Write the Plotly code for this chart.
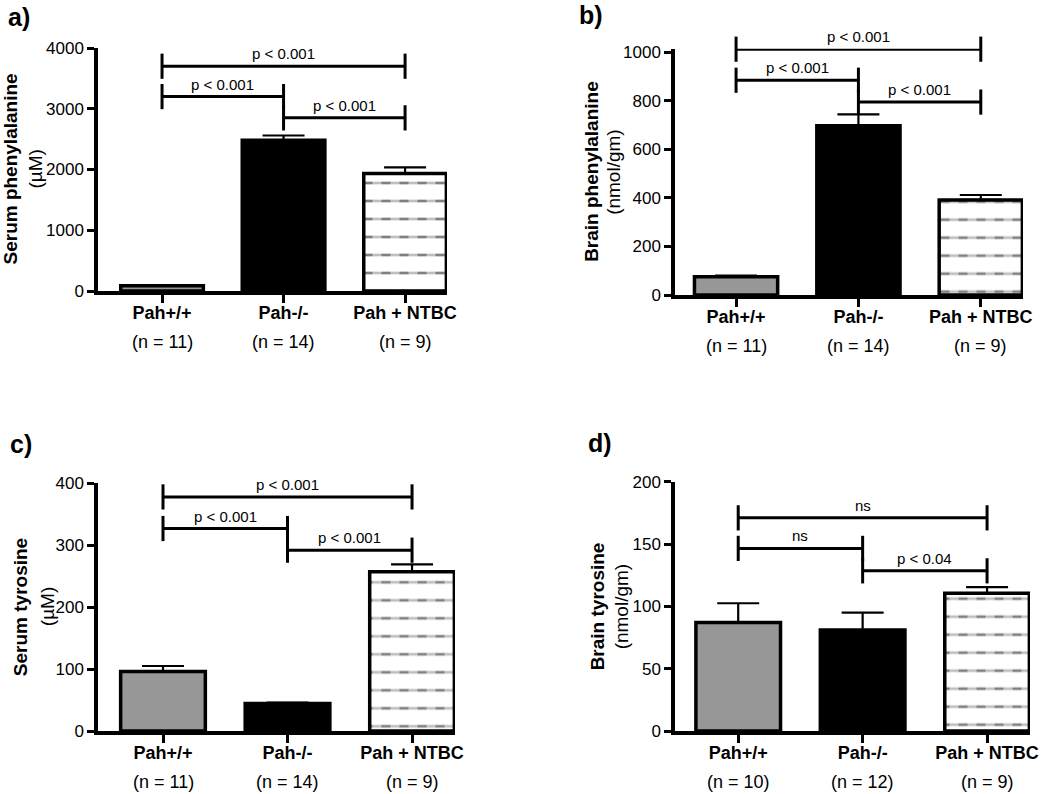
import plotly.graph_objects as go

# ---------------- data ----------------
categories = ["Pah+/+", "Pah-/-", "Pah + NTBC"]

a_means = [85, 2480, 1935]
a_err = [10, 80, 100]
a_n = [11, 14, 9]
a_brackets = [3700, 3200, 2850]
a_blabels = ["p < 0.001", "p < 0.001", "p < 0.001"]

b_means = [75, 697, 392]
b_err = [5, 47, 20]
b_n = [11, 14, 9]
b_brackets = [1013, 885, 795]
b_blabels = ["p < 0.001", "p < 0.001", "p < 0.001"]

c_means = [96, 44.5, 257]
c_err = [9, 1.5, 12]
c_n = [11, 14, 9]
c_brackets = [378, 327, 292]
c_blabels = ["p < 0.001", "p < 0.001", "p < 0.001"]

d_means = [87, 81, 110.5]
d_err = [15.5, 14, 5]
d_n = [10, 12, 9]
d_brackets = [171, 146.5, 128.5]
d_blabels = ["ns", "ns", "p < 0.04"]

bracket_pairs = [(0, 2), (0, 1), (1, 2)]

# ---------------- styling / layout ----------------
W, H = 1050, 794
FONT = "Arial, Liberation Sans, Helvetica, sans-serif"
GRAY = "#979797"

panels = [
    dict(letter="a)", means=a_means, err=a_err, n=a_n, br=a_brackets, bl=a_blabels,
         title="Serum phenylalanine", unit="(µM)", yrange=[0, 4000], dtick=1000,
         xpx=[98, 447], ypx=[48, 291], xr=[-0.527, 2.345],
         letter_pos=(19, 17), tpos=(10, 35)),
    dict(letter="b)", means=b_means, err=b_err, n=b_n, br=b_brackets, bl=b_blabels,
         title="Brain phenylalanine", unit="(nmol/gm)", yrange=[0, 1015], dtick=200,
         xpx=[675, 1023], ypx=[48.7, 295], xr=[-0.499, 2.345],
         letter_pos=(591, 15), tpos=(592, 614)),
    dict(letter="c)", means=c_means, err=c_err, n=c_n, br=c_brackets, bl=c_blabels,
         title="Serum tyrosine", unit="(µM)", yrange=[0, 400], dtick=100,
         xpx=[98, 455], ypx=[483.3, 731], xr=[-0.522, 2.345],
         letter_pos=(21, 444), tpos=(20, 47)),
    dict(letter="d)", means=d_means, err=d_err, n=d_n, br=d_brackets, bl=d_blabels,
         title="Brain tyrosine", unit="(nmol/gm)", yrange=[0, 200], dtick=50,
         xpx=[675, 1030], ypx=[481.7, 731], xr=[-0.508, 2.345],
         letter_pos=(600, 443), tpos=(597, 621)),
]

fig = go.Figure()
layout = dict(
    width=W, height=H,
    margin=dict(l=0, r=0, t=0, b=0),
    paper_bgcolor="white", plot_bgcolor="white",
    showlegend=False, barmode="overlay",
    font=dict(family=FONT, color="black"),
)
annotations = []

for i, p in enumerate(panels, start=1):
    sfx = "" if i == 1 else str(i)
    xa, ya = "x" + sfx, "y" + sfx

    # grey and black bars
    fig.add_trace(go.Bar(
        x=categories[:2], y=p["means"][:2], width=0.68, xaxis=xa, yaxis=ya,
        marker=dict(color=[GRAY, "black"], line=dict(width=0)),
        hoverinfo="skip",
    ))
    # white bar with horizontal lines
    fig.add_trace(go.Bar(
        x=categories[2:], y=p["means"][2:], width=0.68, xaxis=xa, yaxis=ya,
        marker=dict(color="white", line=dict(width=0),
                    pattern=dict(shape="-", fgcolor="black", bgcolor="white",
                                 size=18, solidity=0.15)),
        hoverinfo="skip",
    ))
    # white vertical strips break the lines into dashes
    fig.add_trace(go.Bar(
        x=categories[2:], y=p["means"][2:], width=0.68, xaxis=xa, yaxis=ya,
        marker=dict(color="rgba(255,255,255,0)", line=dict(width=0),
                    pattern=dict(shape="|", fgcolor="white", bgcolor="rgba(255,255,255,0)",
                                 size=18, solidity=0.5)),
        hoverinfo="skip",
    ))
    # outlines + error bars
    fig.add_trace(go.Bar(
        x=categories, y=p["means"], width=0.68, xaxis=xa, yaxis=ya,
        marker=dict(color="rgba(0,0,0,0)", line=dict(width=3.5, color="black")),
        error_y=dict(type="data", symmetric=False, array=p["err"],
                     arrayminus=[0] * len(p["err"]), color="black",
                     thickness=2.2, width=21),
        hoverinfo="skip",
    ))

    # significance brackets
    bx, by = [], []
    for (a, b), h in zip(bracket_pairs, p["br"]):
        bx += [categories[a], categories[b], None]
        by += [h, h, None]
    fig.add_trace(go.Scatter(
        x=bx, y=by, xaxis=xa, yaxis=ya, mode="lines+markers",
        line=dict(color="black", width=3),
        marker=dict(symbol="line-ns", size=18, color="black",
                    line=dict(width=3, color="black")),
        cliponaxis=False, hoverinfo="skip",
    ))
    for (a, b), h, lab in zip(bracket_pairs, p["br"], p["bl"]):
        annotations.append(dict(
            x=(a + b) / 2, y=h, xref=xa, yref=ya, text=lab, showarrow=False,
            yanchor="bottom", yshift=2, font=dict(size=15, family=FONT, color="black"),
        ))

    # (n = ..) labels under categories
    for cat, nval in zip(categories, p["n"]):
        annotations.append(dict(
            x=cat, y=0, xref=xa, yref=ya, text=f"(n = {nval})", showarrow=False,
            yanchor="middle", yshift=-51, font=dict(size=18, family=FONT, color="black"),
        ))

    # y-axis titles (two lines)
    ymid = 1 - (p["ypx"][0] + p["ypx"][1]) / 2 / H
    annotations.append(dict(
        x=p["tpos"][0] / W, y=ymid, xref="paper", yref="paper", textangle=-90,
        text="<b>" + p["title"] + "</b>", showarrow=False, xanchor="center", yanchor="middle",
        font=dict(size=19, family=FONT, color="black"),
    ))
    annotations.append(dict(
        x=p["tpos"][1] / W, y=ymid, xref="paper", yref="paper", textangle=-90,
        text=p["unit"], showarrow=False, xanchor="center", yanchor="middle",
        font=dict(size=19, family=FONT, color="black"),
    ))
    # panel letter
    annotations.append(dict(
        x=p["letter_pos"][0] / W, y=1 - p["letter_pos"][1] / H, xref="paper", yref="paper",
        text="<b>" + p["letter"] + "</b>", showarrow=False, xanchor="center", yanchor="middle",
        font=dict(size=25, family=FONT, color="black"),
    ))

    layout["xaxis" + sfx] = dict(
        domain=[p["xpx"][0] / W, p["xpx"][1] / W], anchor=ya,
        type="category", categoryorder="array", categoryarray=categories,
        range=p["xr"], tickvals=categories,
        ticktext=["<b>" + c + "</b>" for c in categories],
        showline=True, linecolor="black", linewidth=3.5,
        ticks="outside", ticklen=8, tickwidth=3, tickcolor="black",
        ticklabelstandoff=-5,
        tickfont=dict(size=18, family=FONT, color="black"),
        showgrid=False, zeroline=False, automargin=False, fixedrange=True,
    )
    layout["yaxis" + sfx] = dict(
        domain=[1 - p["ypx"][1] / H, 1 - p["ypx"][0] / H], anchor=xa,
        range=p["yrange"], tick0=0, dtick=p["dtick"],
        showline=True, linecolor="black", linewidth=3.5,
        ticks="outside", ticklen=7, tickwidth=3, tickcolor="black",
        tickfont=dict(size=17, family=FONT, color="black"),
        showgrid=False, zeroline=False, automargin=False, fixedrange=True,
    )

layout["annotations"] = annotations
fig.update_layout(**layout)
fig.write_html(
    "out.html",
    config={"displayModeBar": False},
    post_script="document.body.style.margin='0px';document.body.style.overflow='hidden';",
)
